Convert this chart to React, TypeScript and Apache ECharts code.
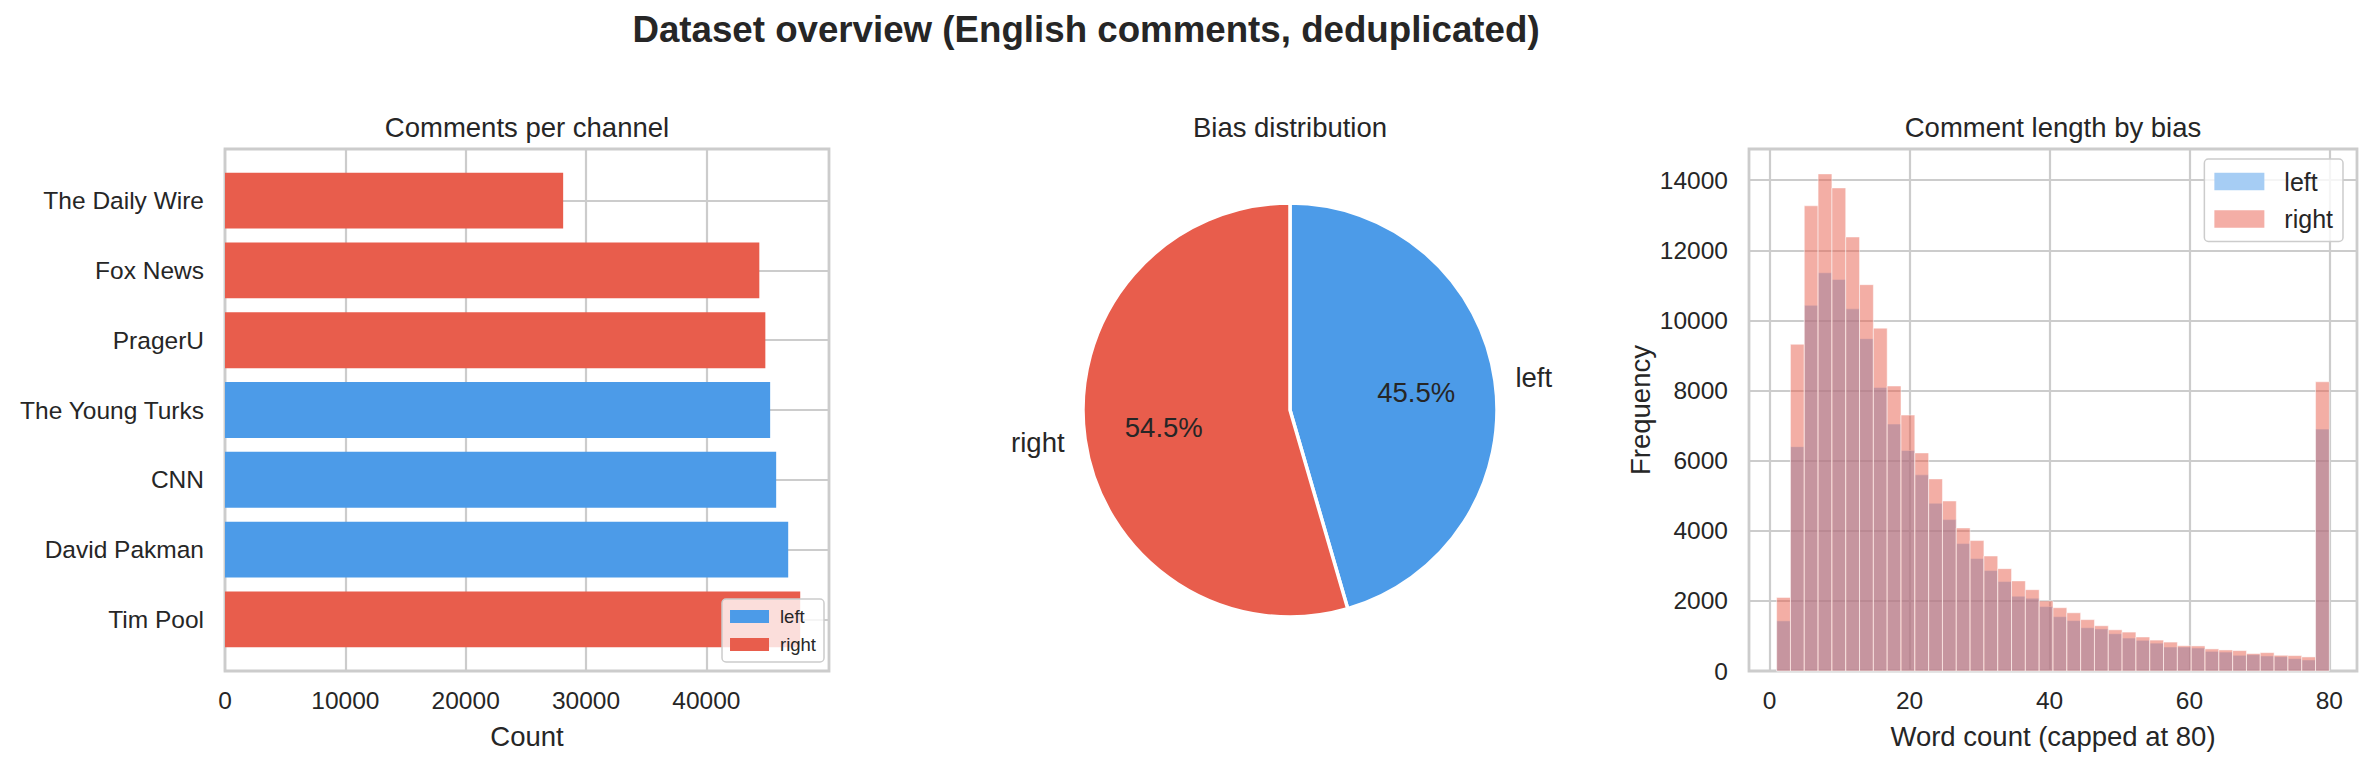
import { useEffect, useRef } from "react";
import * as echarts from "echarts";

// channel counts, bottom to top as drawn
const CHANNELS = ["Tim Pool", "David Pakman", "CNN", "The Young Turks", "PragerU", "Fox News", "The Daily Wire"];
const CHANNEL_COUNTS = [47800, 46800, 45800, 45300, 44900, 44400, 28100];
const CHANNEL_BIAS = ["right", "left", "left", "left", "right", "right", "right"];
const COUNT_TICKS = [0, 10000, 20000, 30000, 40000];

const BIAS_NAMES = ["left", "right"];
const BIAS_SHARE = [45.5, 54.5];

// 40 bins over word counts 1..80
const BIN_START = 1;
const BIN_END = 80;
const HIST_LEFT = [
  1430, 6400, 10430, 11360, 11170, 10330, 9480, 8090, 7045, 6290,
  5595, 4784, 4318, 3634, 3207, 2865, 2551, 2133, 2076, 1837,
  1550, 1437, 1235, 1200, 1063, 940, 875, 795, 684, 684,
  655, 560, 540, 448, 467, 429, 410, 353, 315, 6900,
];
const HIST_RIGHT = [
  2100, 9320, 13270, 14180, 13780, 12380, 11020, 9780, 8130, 7300,
  6220, 5480, 4850, 4080, 3720, 3280, 2920, 2570, 2320, 2000,
  1805, 1660, 1465, 1290, 1175, 1110, 970, 882, 825, 720,
  715, 630, 600, 582, 496, 524, 448, 439, 401, 8250,
];
const WORD_TICKS = [0, 20, 40, 60, 80];
const FREQ_TICKS = [0, 2000, 4000, 6000, 8000, 10000, 12000, 14000];

const BLUE = "#4C9BE8";
const RED = "#E85D4C";
const BLUE_HALF = "#A6CDF4";
const RED_HALF = "#F4AEA6";
const INK = "#262626";
const EDGE = "#cccccc";
const FONT = "'Liberation Sans', Arial, Helvetica, sans-serif";
const BAR_HEIGHT = 0.8;

export default function App() {
  const ref = useRef<HTMLDivElement>(null);

  useEffect(() => {
    document.body.style.margin = "0";
    const el = ref.current;
    if (!el) return;
    const chart = echarts.init(el, undefined, { renderer: "svg" });

    const binWidth = (BIN_END - BIN_START) / HIST_LEFT.length;
    const histData = (vals: number[]) =>
      vals.map((v, i) => [BIN_START + i * binWidth, BIN_START + (i + 1) * binWidth, v]);
    const channelData = (bias: string) =>
      CHANNELS.map((_, i) => i)
        .filter((i) => CHANNEL_BIAS[i] === bias)
        .map((i) => [i, CHANNEL_COUNTS[i]]);

    const barRender = (params: any, api: any) => {
      const i = api.value(0);
      const a = api.coord([0, i + BAR_HEIGHT / 2]);
      const b = api.coord([api.value(1), i - BAR_HEIGHT / 2]);
      return {
        type: "rect",
        shape: { x: a[0], y: a[1], width: b[0] - a[0], height: b[1] - a[1] },
        style: { fill: api.visual("color") },
      };
    };
    const histRender = (params: any, api: any) => {
      const top = api.coord([api.value(0), api.value(2)]);
      const base = api.coord([api.value(1), 0]);
      return {
        type: "rect",
        shape: { x: top[0], y: top[1], width: base[0] - top[0], height: base[1] - top[1] },
        style: { fill: api.visual("color"), stroke: "#ffffff", lineWidth: 1, opacity: 0.5 },
      };
    };

    const tickLabel = { color: INK, fontSize: 24.5, fontFamily: FONT };
    const axisName = { color: INK, fontSize: 27.5, fontFamily: FONT };
    const split = { show: true, lineStyle: { color: EDGE, width: 2.2 } };
    const plain = (v: number) => String(v);

    const legendBase = {
      orient: "vertical",
      icon: "rect",
      selectedMode: false,
      backgroundColor: "rgba(255,255,255,0.8)",
      borderColor: EDGE,
      borderWidth: 1.5,
      borderRadius: 4,
      formatter: (n: string) => n.split("-")[1],
    };

    const title = (text: string, x: number, y: number, size: number, bold = false) => ({
      type: "text",
      x,
      y,
      silent: true,
      style: {
        text,
        fill: INK,
        fontSize: size,
        fontWeight: bold ? "bold" : "normal",
        fontFamily: FONT,
        align: "center",
        verticalAlign: "middle",
      },
    });

    chart.setOption({
      animation: false,
      textStyle: { fontFamily: FONT, color: INK },
      graphic: [
        title("Dataset overview (English comments, deduplicated)", 1086, 29, 36.7, true),
        title("Comments per channel", 527, 127, 27.5),
        title("Bias distribution", 1290, 127, 27.5),
        title("Comment length by bias", 2053, 127, 27.5),
      ],
      grid: [
        { left: 225, top: 149, width: 604, height: 522, show: true, borderColor: EDGE, borderWidth: 2.8 },
        { left: 1749, top: 149, width: 608, height: 522, show: true, borderColor: EDGE, borderWidth: 2.8 },
      ],
      xAxis: [
        {
          gridIndex: 0,
          type: "value",
          min: 0,
          max: 50190,
          axisLine: { show: false },
          axisTick: { show: false, customValues: COUNT_TICKS },
          axisLabel: { ...tickLabel, customValues: COUNT_TICKS, margin: 17, formatter: plain },
          splitLine: split,
          name: "Count",
          nameLocation: "middle",
          nameGap: 51,
          nameTextStyle: axisName,
        },
        {
          gridIndex: 1,
          type: "value",
          min: -2.95,
          max: 83.95,
          axisLine: { show: false },
          axisTick: { show: false, customValues: WORD_TICKS },
          axisLabel: { ...tickLabel, customValues: WORD_TICKS, margin: 17, formatter: plain },
          splitLine: split,
          name: "Word count (capped at 80)",
          nameLocation: "middle",
          nameGap: 51,
          nameTextStyle: axisName,
        },
      ],
      yAxis: [
        {
          gridIndex: 0,
          type: "value",
          min: -0.74,
          max: 6.74,
          axisLine: { show: false },
          axisTick: { show: false, customValues: CHANNELS.map((_, i) => i) },
          axisLabel: {
            ...tickLabel,
            customValues: CHANNELS.map((_, i) => i),
            margin: 21,
            formatter: (v: number) => CHANNELS[Math.round(v)],
          },
          splitLine: split,
        },
        {
          gridIndex: 1,
          type: "value",
          min: 0,
          max: 14890,
          axisLine: { show: false },
          axisTick: { show: false, customValues: FREQ_TICKS },
          axisLabel: { ...tickLabel, customValues: FREQ_TICKS, margin: 21, formatter: plain },
          splitLine: split,
          name: "Frequency",
          nameLocation: "middle",
          nameGap: 95,
          nameRotate: 90,
          nameTextStyle: axisName,
        },
      ],
      legend: [
        {
          ...legendBase,
          data: [
            { name: "bar-left", itemStyle: { color: BLUE } },
            { name: "bar-right", itemStyle: { color: RED } },
          ],
          right: 2371 - 824,
          top: 599,
          itemWidth: 39,
          itemHeight: 13,
          itemGap: 9,
          padding: [8, 8, 8, 8],
          textStyle: { color: INK, fontSize: 18.5, lineHeight: 19, fontFamily: FONT, padding: [0, 0, 0, 6] },
        },
        {
          ...legendBase,
          data: [
            { name: "hist-left", itemStyle: { color: BLUE_HALF } },
            { name: "hist-right", itemStyle: { color: RED_HALF } },
          ],
          right: 28,
          top: 159,
          itemWidth: 50,
          itemHeight: 17.5,
          itemGap: 12.5,
          padding: 10,
          textStyle: { color: INK, fontSize: 25, lineHeight: 25, fontFamily: FONT, padding: [0, 0, 0, 15] },
        },
      ],
      series: [
        {
          type: "custom",
          name: "bar-left",
          xAxisIndex: 0,
          yAxisIndex: 0,
          itemStyle: { color: BLUE },
          encode: { x: 1, y: 0 },
          data: channelData("left"),
          renderItem: barRender,
          silent: true,
        },
        {
          type: "custom",
          name: "bar-right",
          xAxisIndex: 0,
          yAxisIndex: 0,
          itemStyle: { color: RED },
          encode: { x: 1, y: 0 },
          data: channelData("right"),
          renderItem: barRender,
          silent: true,
        },
        {
          type: "pie",
          name: "bias",
          center: [1290, 410],
          radius: 207,
          startAngle: 90,
          clockwise: true,
          avoidLabelOverlap: false,
          silent: true,
          data: BIAS_NAMES.map((n, i) => ({ name: n, value: BIAS_SHARE[i], itemStyle: { color: i === 0 ? BLUE : RED } })),
          itemStyle: { borderColor: "#ffffff", borderWidth: 3.5 },
          label: {
            show: true,
            position: "outside",
            formatter: "{b}",
            color: INK,
            fontSize: 27.5,
            fontFamily: FONT,
            distanceToLabelLine: 0,
          },
          labelLine: { show: false, length: 20.7, length2: 0 },
          emphasis: { disabled: true },
        },
        {
          type: "pie",
          name: "bias-pct",
          center: [1290, 410],
          radius: [83, 166],
          startAngle: 90,
          clockwise: true,
          silent: true,
          data: BIAS_NAMES.map((n, i) => ({ name: n, value: BIAS_SHARE[i] })),
          itemStyle: { color: "rgba(0,0,0,0)", borderWidth: 0 },
          label: {
            show: true,
            position: "inside",
            formatter: (p: any) => p.percent.toFixed(1) + "%",
            color: INK,
            fontSize: 27.5,
            fontFamily: FONT,
          },
          labelLine: { show: false },
          emphasis: { disabled: true },
        },
        {
          type: "custom",
          name: "hist-left",
          xAxisIndex: 1,
          yAxisIndex: 1,
          itemStyle: { color: BLUE },
          encode: { x: [0, 1], y: 2 },
          data: histData(HIST_LEFT),
          renderItem: histRender,
          silent: true,
        },
        {
          type: "custom",
          name: "hist-right",
          xAxisIndex: 1,
          yAxisIndex: 1,
          itemStyle: { color: RED },
          encode: { x: [0, 1], y: 2 },
          data: histData(HIST_RIGHT),
          renderItem: histRender,
          silent: true,
        },
      ],
    });

    return () => {
      chart.dispose();
    };
  }, []);

  return <div ref={ref} style={{ width: 2371, height: 762 }} />;
}
